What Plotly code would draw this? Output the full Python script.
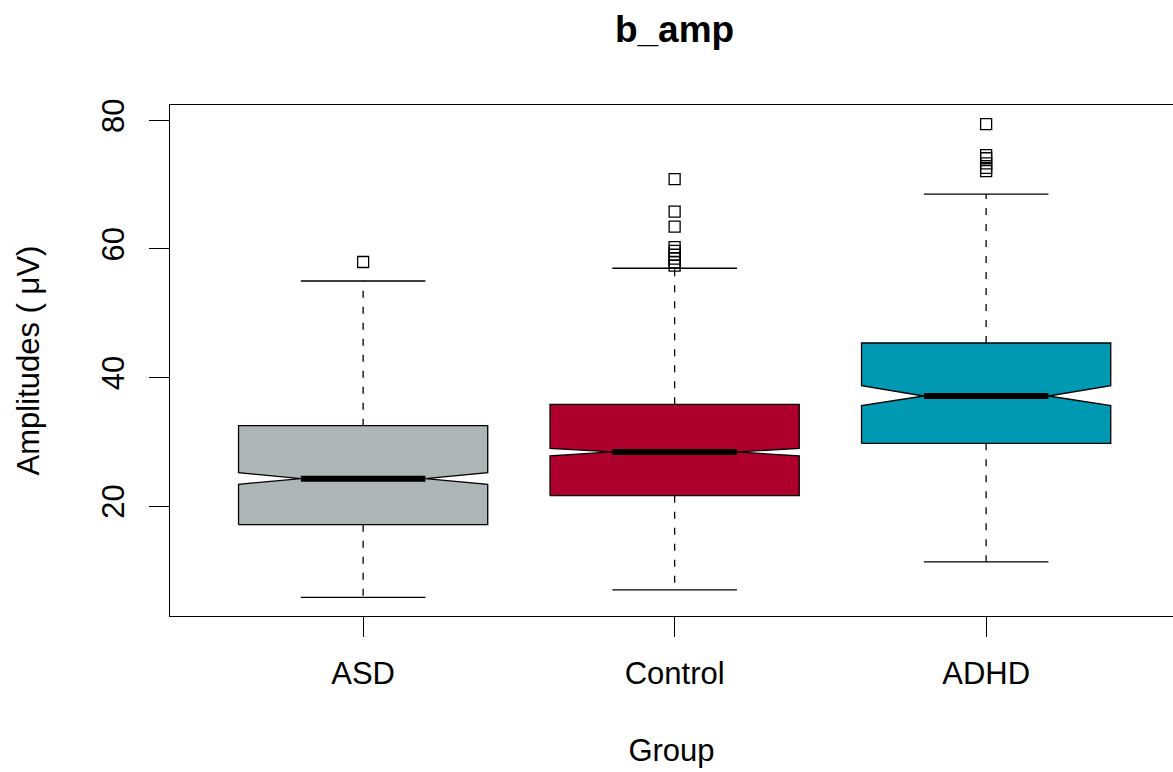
import plotly.graph_objects as go

# ---- data ----
groups = ["ASD", "Control", "ADHD"]
lower_whisker = [5.85, 6.99, 11.34]
q1 = [17.14, 21.65, 29.79]
median = [24.29, 28.44, 37.14]
q3 = [32.53, 35.85, 45.38]
upper_whisker = [55.02, 57.0, 68.54]
notch_low = [23.42, 27.82, 35.64]
notch_high = [25.22, 29.01, 38.75]
outliers_asd = [57.97]
outliers_control = [70.87, 65.79, 63.46, 60.3, 59.7, 59.1, 58.5, 57.9, 57.4]
outliers_adhd = [79.42, 74.6, 74.1, 73.3, 72.6, 72.1]
colors = ["#ADB6B6", "#AD002A", "#0099B4"]
y_ticks = [20, 40, 60, 80]

outliers = [outliers_asd, outliers_control, outliers_adhd]

W = 0.4          # box half width
NF = 0.5         # notch fraction
FONT = "Liberation Sans, Arial, sans-serif"
LW = 1.3

fig = go.Figure()

for i, g in enumerate(groups):
    x = i + 1
    # notched box polygon
    bx = [x - W, x + W, x + W, x + W * NF, x + W, x + W, x - W, x - W, x - W * NF, x - W, x - W]
    by = [q1[i], q1[i], notch_low[i], median[i], notch_high[i], q3[i], q3[i],
          notch_high[i], median[i], notch_low[i], q1[i]]
    fig.add_trace(go.Scatter(x=bx, y=by, mode="lines", fill="toself",
                             fillcolor=colors[i], line=dict(color="black", width=LW),
                             hoverinfo="skip", showlegend=False))
    # whiskers (dashed)
    fig.add_trace(go.Scatter(x=[x, x, None, x, x],
                             y=[q3[i], upper_whisker[i], None, q1[i], lower_whisker[i]],
                             mode="lines", line=dict(color="black", width=LW, dash="7px,9px"),
                             hoverinfo="skip", showlegend=False))
    # staples
    fig.add_trace(go.Scatter(x=[x - W * 0.5, x + W * 0.5, None, x - W * 0.5, x + W * 0.5],
                             y=[upper_whisker[i], upper_whisker[i], None,
                                lower_whisker[i], lower_whisker[i]],
                             mode="lines", line=dict(color="black", width=LW),
                             hoverinfo="skip", showlegend=False))
    # median
    fig.add_trace(go.Scatter(x=[x - W * NF, x + W * NF], y=[median[i], median[i]],
                             mode="lines", line=dict(color="black", width=6),
                             hoverinfo="skip", showlegend=False))
    # outliers
    fig.add_trace(go.Scatter(x=[x] * len(outliers[i]), y=outliers[i], mode="markers",
                             marker=dict(symbol="square-open", size=11, color="black",
                                         line=dict(width=LW, color="black")),
                             showlegend=False))

fig.update_layout(
    width=1173, height=772,
    margin=dict(l=170, r=0, t=105, b=156),
    paper_bgcolor="white", plot_bgcolor="white",
    font=dict(family=FONT, size=31, color="black"),
    title=dict(text="<b>b_amp</b>", font=dict(size=37, family=FONT, color="black"),
               x=0.503, xref="paper", xanchor="center",
               y=1 - 29 / 772, yref="container", yanchor="middle"),
    xaxis=dict(range=[0.38, 0.38 + 1003 / 311.5], tickvals=[1, 2, 3], ticktext=groups,
               ticks="outside", ticklen=20, tickwidth=LW, tickcolor="black",
               showline=True, linewidth=LW, linecolor="black", mirror=True,
               showgrid=False, zeroline=False, ticklabelstandoff=10,
               tickfont=dict(size=31),
               title=dict(text="Group", font=dict(size=31), standoff=48)),
    yaxis=dict(range=[2.94, 82.38], tickvals=y_ticks, tickangle=-90,
               ticks="outside", ticklen=20, tickwidth=LW, tickcolor="black",
               showline=True, linewidth=LW, linecolor="black",
               showgrid=False, zeroline=False, ticklabelstandoff=12,
               tickfont=dict(size=31),
               title=dict(text="Amplitudes ( μV)", font=dict(size=31), standoff=47)),
)

fig.write_html("out.html")
